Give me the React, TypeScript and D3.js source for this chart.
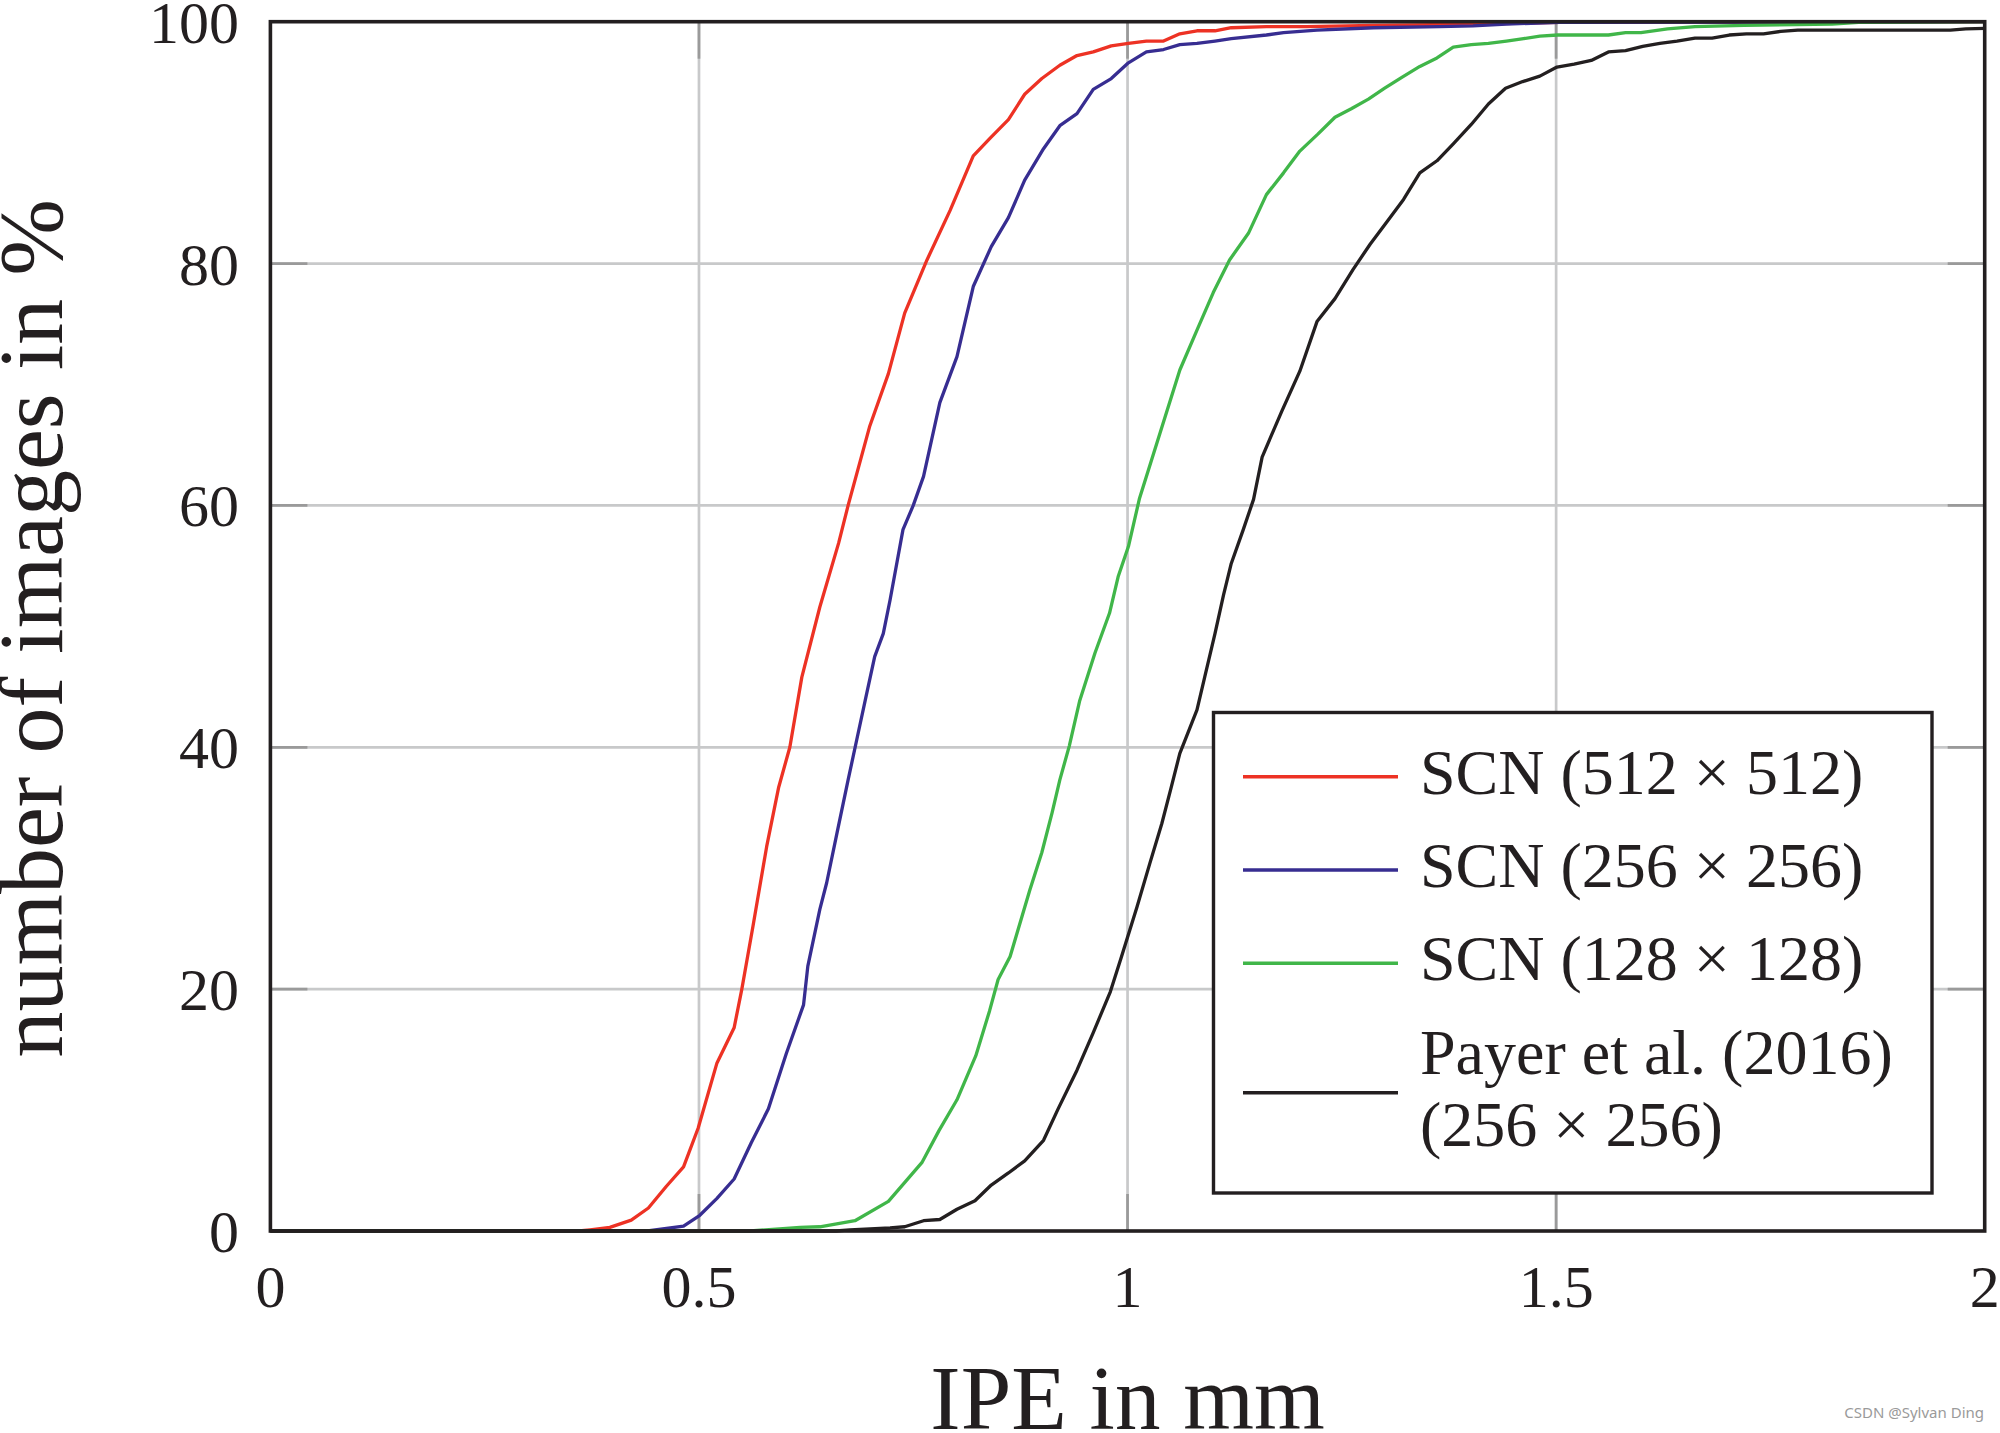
import React from "react";
import * as d3 from "d3";

// ---------- data ----------
const xTicks = [0, 0.5, 1, 1.5, 2];
const xTickLabels = ["0", "0.5", "1", "1.5", "2"];
const yTicks = [0, 20, 40, 60, 80, 100];
const yTickLabels = ["0", "20", "40", "60", "80", "100"];

const redX = [0, 0.36, 0.373, 0.396, 0.421, 0.441, 0.462, 0.482, 0.499, 0.521, 0.541, 0.55, 0.563, 0.579, 0.593, 0.606, 0.62, 0.641, 0.663, 0.674, 0.699, 0.721, 0.74, 0.766, 0.793, 0.82, 0.84, 0.861, 0.88, 0.9, 0.921, 0.941, 0.96, 0.981, 1.001, 1.022, 1.042, 1.061, 1.081, 1.102, 1.121, 1.162, 1.209, 1.287, 1.403, 1.504, 2.0];
const redY = [0, 0, 0.1, 0.3, 0.9, 1.9, 3.7, 5.3, 8.5, 13.9, 16.8, 20, 25.2, 31.8, 36.7, 40, 45.8, 51.6, 56.9, 60, 66.5, 70.9, 75.9, 80.3, 84.4, 88.9, 90.4, 91.9, 94.0, 95.3, 96.4, 97.2, 97.5, 98.0, 98.2, 98.4, 98.4, 99.0, 99.25, 99.25, 99.5, 99.6, 99.6, 99.7, 99.8, 99.95, 100];

const blueX = [0, 0.44, 0.482, 0.501, 0.521, 0.541, 0.561, 0.581, 0.602, 0.622, 0.627, 0.641, 0.649, 0.661, 0.674, 0.684, 0.694, 0.705, 0.715, 0.723, 0.738, 0.75, 0.762, 0.781, 0.801, 0.82, 0.841, 0.861, 0.88, 0.902, 0.921, 0.941, 0.96, 0.981, 1.001, 1.022, 1.042, 1.061, 1.081, 1.102, 1.121, 1.162, 1.182, 1.221, 1.287, 1.364, 1.403, 1.442, 1.504, 2.0];
const blueY = [0, 0, 0.4, 1.3, 2.7, 4.3, 7.3, 10.1, 14.7, 18.7, 21.9, 26.6, 28.8, 32.9, 37.3, 40.6, 43.9, 47.5, 49.4, 52.2, 58.0, 60, 62.4, 68.5, 72.3, 78.1, 81.4, 83.8, 86.9, 89.5, 91.4, 92.4, 94.4, 95.3, 96.6, 97.5, 97.7, 98.1, 98.2, 98.4, 98.6, 98.9, 99.1, 99.3, 99.5, 99.6, 99.65, 99.8, 99.95, 100];

const greenX = [0, 0.56, 0.618, 0.641, 0.682, 0.721, 0.76, 0.78, 0.801, 0.823, 0.839, 0.849, 0.863, 0.886, 0.9, 0.912, 0.921, 0.932, 0.944, 0.962, 0.979, 0.989, 1.001, 1.014, 1.038, 1.061, 1.081, 1.1, 1.119, 1.141, 1.162, 1.182, 1.201, 1.222, 1.242, 1.261, 1.281, 1.3, 1.32, 1.341, 1.361, 1.38, 1.401, 1.421, 1.442, 1.462, 1.481, 1.502, 1.561, 1.581, 1.599, 1.63, 1.662, 1.719, 1.822, 1.853, 2.0];
const greenY = [0, 0, 0.3, 0.35, 0.85, 2.45, 5.65, 8.3, 10.85, 14.5, 18.2, 20.8, 22.7, 28.2, 31.3, 34.6, 37.3, 40.1, 43.8, 47.8, 51.1, 54.1, 56.6, 60.6, 66.0, 71.2, 74.5, 77.6, 80.3, 82.5, 85.7, 87.5, 89.3, 90.7, 92.1, 92.8, 93.6, 94.5, 95.4, 96.3, 97.0, 97.9, 98.1, 98.2, 98.4, 98.6, 98.8, 98.9, 98.9, 99.1, 99.1, 99.4, 99.6, 99.7, 99.8, 99.95, 100];

const blackX = [0, 0.66, 0.676, 0.723, 0.74, 0.762, 0.781, 0.801, 0.822, 0.841, 0.861, 0.88, 0.902, 0.919, 0.941, 0.96, 0.98, 0.993, 1.011, 1.026, 1.04, 1.051, 1.061, 1.081, 1.09, 1.102, 1.112, 1.121, 1.135, 1.147, 1.157, 1.18, 1.201, 1.221, 1.242, 1.263, 1.283, 1.302, 1.322, 1.341, 1.361, 1.38, 1.401, 1.421, 1.441, 1.461, 1.481, 1.501, 1.521, 1.541, 1.561, 1.581, 1.601, 1.621, 1.641, 1.662, 1.682, 1.702, 1.722, 1.742, 1.762, 1.782, 1.96, 1.978, 2.0];
const blackY = [0, 0, 0.1, 0.25, 0.35, 0.85, 0.95, 1.8, 2.5, 3.8, 4.8, 5.8, 7.5, 10.1, 13.3, 16.4, 19.8, 22.7, 26.8, 30.4, 33.7, 36.7, 39.5, 43.1, 45.8, 49.4, 52.6, 55.2, 58.0, 60.5, 64.0, 67.8, 71.1, 75.2, 77.1, 79.5, 81.6, 83.4, 85.3, 87.5, 88.5, 89.9, 91.5, 93.2, 94.5, 95.05, 95.5, 96.25, 96.5, 96.8, 97.5, 97.6, 97.96, 98.2, 98.4, 98.65, 98.65, 98.9, 99.0, 99.0, 99.2, 99.3, 99.3, 99.4, 99.45];

const seriesNames = ["SCN (512 × 512)", "SCN (256 × 256)", "SCN (128 × 128)", "Payer et al. (2016)"];
const seriesColors = ["#ED3224", "#372D91", "#40B649", "#231F20"];

// ---------- layout ----------
const W = 2000;
const H = 1433;
const L = 270.4, R = 1984.7, T = 21.7, B = 1231;
const FONT = "'Liberation Serif', 'Times New Roman', Times, serif";

export default function App() {
  const x = d3.scaleLinear().domain([0, 2]).range([L, R]);
  const y = d3.scaleLinear().domain([0, 100]).range([B, T]);
  const line = d3.line<[number, number]>().x(d => x(d[0])).y(d => y(d[1]));

  const series = [
    { xs: redX, ys: redY },
    { xs: blueX, ys: blueY },
    { xs: greenX, ys: greenY },
    { xs: blackX, ys: blackY },
  ].map((s, i) => ({
    name: seriesNames[i],
    color: seriesColors[i],
    pts: s.xs.map((v, j) => [v, s.ys[j]] as [number, number]),
  }));

  const innerX = xTicks.filter(t => t > 0 && t < 2);
  const innerY = yTicks.filter(t => t > 0 && t < 100);
  const tickLen = 37;

  const legendLineY = [776.7, 870, 963.3, 1092.7];
  const legendTextY = [793.5, 886.7, 980.3, 1074];

  return (
    <svg width={W} height={H} style={{ position: "absolute", left: 0, top: 0, display: "block", background: "#fff" }}>
      <rect x={0} y={0} width={W} height={H} fill="#fff" />
      {/* grid */}
      {innerX.map(t => (
        <line key={"gx" + t} x1={x(t)} x2={x(t)} y1={T} y2={B} stroke="#C8C9CA" strokeWidth={2.7} />
      ))}
      {innerY.map(t => (
        <line key={"gy" + t} x1={L} x2={R} y1={y(t)} y2={y(t)} stroke="#C8C9CA" strokeWidth={2.7} />
      ))}
      {/* tick marks */}
      {innerX.map(t => (
        <g key={"tx" + t} stroke="#9A9A9A" strokeWidth={2.7}>
          <line x1={x(t)} x2={x(t)} y1={B} y2={B - tickLen} />
          <line x1={x(t)} x2={x(t)} y1={T} y2={T + tickLen} />
        </g>
      ))}
      {innerY.map(t => (
        <g key={"ty" + t} stroke="#9A9A9A" strokeWidth={2.7}>
          <line x1={L} x2={L + tickLen} y1={y(t)} y2={y(t)} />
          <line x1={R} x2={R - tickLen} y1={y(t)} y2={y(t)} />
        </g>
      ))}
      {/* curves */}
      {series.map(s => (
        <path key={s.name} d={line(s.pts) || ""} fill="none" stroke={s.color} strokeWidth={3.3} strokeLinejoin="round" />
      ))}
      {/* frame */}
      <rect x={L} y={T} width={R - L} height={B - T} fill="none" stroke="#231F20" strokeWidth={3.6} />
      {/* tick labels */}
      {xTicks.map((t, i) => (
        <text key={"xl" + t} x={x(t)} y={1307} textAnchor="middle" fontFamily={FONT} fontSize={60} fill="#231F20">
          {xTickLabels[i]}
        </text>
      ))}
      {yTicks.map((t, i) => (
        <text key={"yl" + t} x={239} y={y(t) + 21} textAnchor="end" fontFamily={FONT} fontSize={60} fill="#231F20">
          {yTickLabels[i]}
        </text>
      ))}
      {/* axis titles */}
      <text x={(L + R) / 2} y={1429} textAnchor="middle" fontFamily={FONT} fontSize={91} fill="#231F20">
        IPE in mm
      </text>
      <text transform={`translate(62, ${(T + B) / 2 + 2}) rotate(-90)`} textAnchor="middle" fontFamily={FONT} fontSize={92} fill="#231F20">
        number of images in %
      </text>
      {/* legend */}
      <rect x={1213.5} y={712.5} width={718.5} height={480.5} fill="#fff" stroke="#231F20" strokeWidth={3.4} />
      {series.map((s, i) => (
        <line key={"ll" + i} x1={1243} x2={1398} y1={legendLineY[i]} y2={legendLineY[i]} stroke={s.color} strokeWidth={3.4} />
      ))}
      {series.map((s, i) => (
        <text key={"lt" + i} x={1420} y={legendTextY[i]} fontFamily={FONT} fontSize={64} fill="#231F20">
          {s.name}
        </text>
      ))}
      <text x={1420} y={1146.4} fontFamily={FONT} fontSize={64} fill="#231F20">
        (256 × 256)
      </text>
      {/* watermark */}
      <text x={1984} y={1418} textAnchor="end" fontFamily="'Noto Sans', sans-serif" fontSize={15} fill="#9A9A9A">
        CSDN @Sylvan Ding
      </text>
    </svg>
  );
}
